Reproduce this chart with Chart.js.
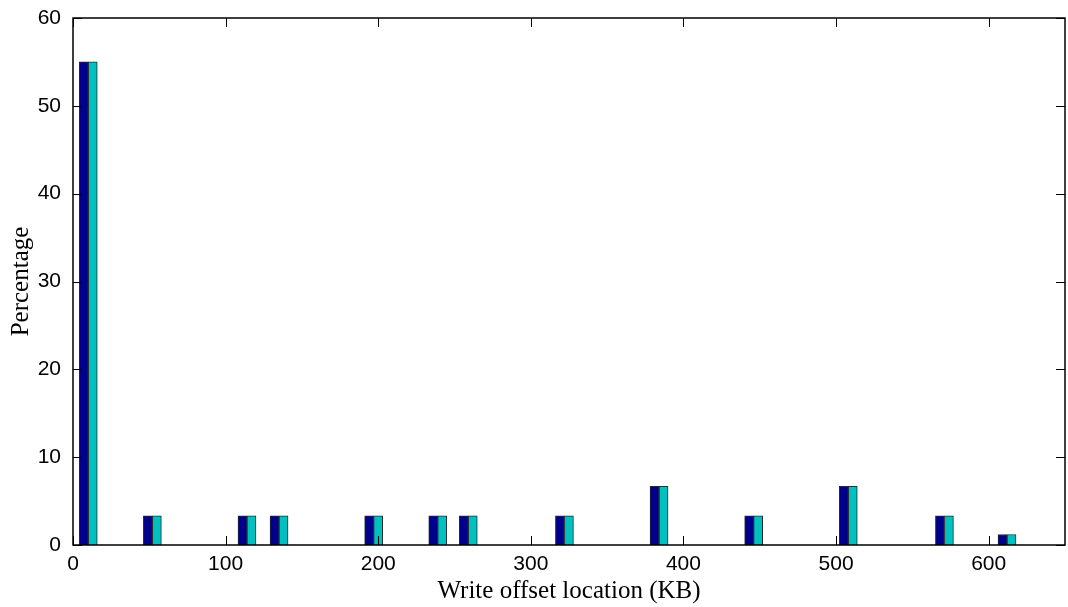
<!DOCTYPE html>
<html>
<head>
<meta charset="utf-8">
<script src="https://cdn.jsdelivr.net/npm/chart.js@4.4.1/dist/chart.umd.min.js"></script>
<style>
  html, body { margin: 0; padding: 0; background: #ffffff; }
  #wrap { width: 1068px; height: 607px; position: relative; }
</style>
</head>
<body>
<div id="wrap"><canvas id="c" width="1068" height="607"></canvas></div>
<script>
// Write offset locations (KB) of each bar group
const offsets = [10, 52, 114, 135, 197, 239, 259, 322, 384, 446, 508, 571, 612];
// Percentage values of the two series
const seriesA = [55, 3.33, 3.33, 3.33, 3.33, 3.33, 3.33, 3.33, 6.67, 3.33, 6.67, 3.33, 1.2];
const seriesB = [55, 3.33, 3.33, 3.33, 3.33, 3.33, 3.33, 3.33, 6.67, 3.33, 6.67, 3.33, 1.2];
// Tick labels
const xTicks = [0, 100, 200, 300, 400, 500, 600];
const yTicks = [0, 10, 20, 30, 40, 50, 60];
const xMax = 650;
const yMax = 60;

const toPoints = (vals) => offsets.map((x, i) => ({ x: x, y: vals[i] }));

const frameAndTicks = {
  id: 'frameAndTicks',
  afterDraw(chart) {
    const ctx = chart.ctx;
    const a = chart.chartArea;
    const xs = chart.scales.x, ys = chart.scales.y;
    const L = 9;
    ctx.save();
    ctx.strokeStyle = '#000';
    ctx.lineWidth = 1;
    ctx.beginPath();
    xs.ticks.forEach(t => {
      const px = Math.round(xs.getPixelForValue(t.value)) + 0.5;
      ctx.moveTo(px, a.bottom); ctx.lineTo(px, a.bottom - L);
      ctx.moveTo(px, a.top); ctx.lineTo(px, a.top + L);
    });
    ys.ticks.forEach(t => {
      const py = Math.round(ys.getPixelForValue(t.value)) + 0.5;
      ctx.moveTo(a.left, py); ctx.lineTo(a.left + L, py);
      ctx.moveTo(a.right, py); ctx.lineTo(a.right - L, py);
    });
    ctx.stroke();
    ctx.lineWidth = 1.5;
    ctx.strokeRect(a.left, a.top, a.right - a.left, a.bottom - a.top);
    ctx.restore();
  }
};

new Chart(document.getElementById('c'), {
  type: 'bar',
  data: {
    datasets: [
      {
        label: 'Series 1',
        data: toPoints(seriesA),
        backgroundColor: '#00008C',
        borderColor: '#2a2a2a',
        borderWidth: 1,
        barThickness: 9
      },
      {
        label: 'Series 2',
        data: toPoints(seriesB),
        backgroundColor: '#00C0C0',
        borderColor: '#2a2a2a',
        borderWidth: 1,
        barThickness: 9
      }
    ]
  },
  options: {
    responsive: false,
    animation: false,
    layout: { padding: { top: 18, right: 3, left: 0, bottom: 0 } },
    plugins: { legend: { display: false }, tooltip: { enabled: false } },
    scales: {
      x: {
        type: 'linear',
        offset: false,
        min: 0,
        max: xMax,
        afterBuildTicks(scale) { scale.ticks = xTicks.map(v => ({ value: v })); },
        afterFit(scale) { scale.height = 62; scale.paddingLeft = 0; scale.paddingRight = 0; },
        grid: { display: false, drawTicks: false, offset: false },
        border: { display: false },
        ticks: {
          padding: 7,
          color: '#000',
          font: { family: 'Liberation Sans, Arial, sans-serif', size: 21 },
          maxRotation: 0,
          autoSkip: false
        },
        title: {
          display: true,
          text: 'Write offset location (KB)',
          color: '#000',
          font: { family: 'Liberation Serif, Times New Roman, serif', size: 25 },
          padding: { top: 0, bottom: 1 }
        }
      },
      y: {
        min: 0,
        max: yMax,
        afterBuildTicks(scale) { scale.ticks = yTicks.map(v => ({ value: v })); },
        afterFit(scale) { scale.width = 73; scale.paddingTop = 0; scale.paddingBottom = 0; },
        grid: { display: false, drawTicks: false },
        border: { display: false },
        ticks: {
          padding: 12,
          color: '#000',
          font: { family: 'Liberation Sans, Arial, sans-serif', size: 21 }
        },
        title: {
          display: true,
          text: 'Percentage',
          color: '#000',
          font: { family: 'Liberation Serif, Times New Roman, serif', size: 25 },
          padding: { top: 6, bottom: 0 }
        }
      }
    }
  },
  plugins: [frameAndTicks]
});
</script>
</body>
</html>
